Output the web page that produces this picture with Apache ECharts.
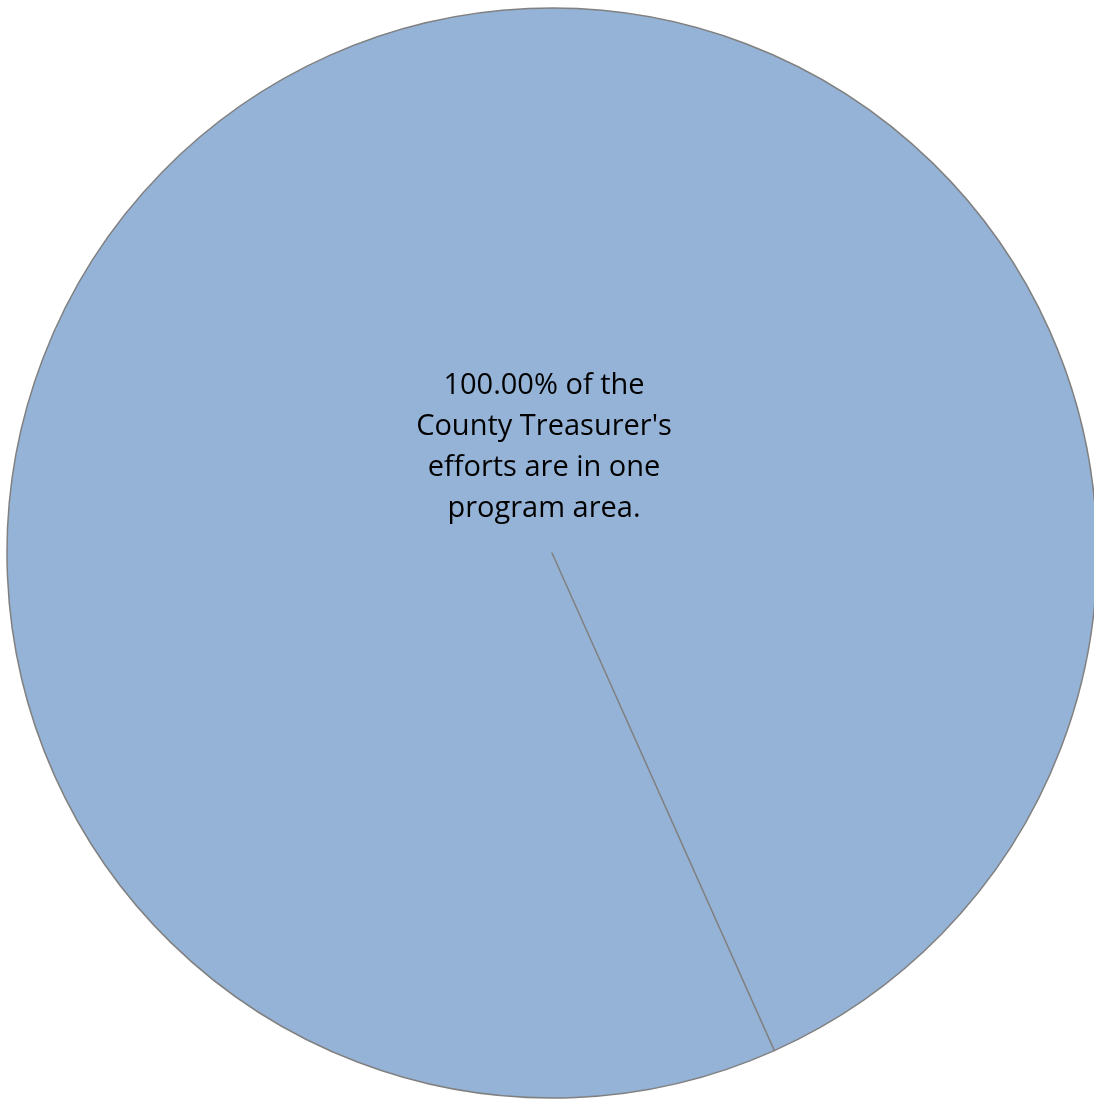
<!DOCTYPE html>
<html>
<head>
<meta charset="utf-8">
<script src="https://cdn.jsdelivr.net/npm/echarts@6/dist/echarts.min.js"></script>
<style>
html,body{margin:0;padding:0;background:#fff;}
#chart{width:1094px;height:1100px;}
</style>
</head>
<body>
<div id="chart"></div>
<script>
// Data
const categories = ["County Treasurer program area", ""];
const values = [100, 0];
const sharePct = 100.00;
const labelLines = [
  sharePct.toFixed(2) + "% of the",
  "County Treasurer's",
  "efforts are in one",
  "program area."
];

const chart = echarts.init(document.getElementById('chart'), null, {renderer: 'canvas'});
chart.setOption({
  animation: false,
  backgroundColor: '#ffffff',
  series: [{
    type: 'pie',
    center: [552, 553],
    radius: 545,
    startAngle: -65.92,
    clockwise: true,
    minAngle: 0,
    avoidLabelOverlap: false,
    label: {show: false},
    labelLine: {show: false},
    emphasis: {disabled: true},
    itemStyle: {color: '#95b3d7', borderColor: '#808080', borderWidth: 1.5},
    data: categories.map((c, i) => ({name: c, value: values[i]}))
  }],
  graphic: [{
    type: 'text',
    z: 100,
    x: 544,
    y: 447,
    style: {
      text: labelLines.join('\n'),
      textAlign: 'center',
      textVerticalAlign: 'middle',
      fontFamily: '"Open Sans", "Noto Sans", sans-serif',
      fontSize: 29,
      lineHeight: 41,
      fill: '#000000'
    }
  }]
});
</script>
</body>
</html>
